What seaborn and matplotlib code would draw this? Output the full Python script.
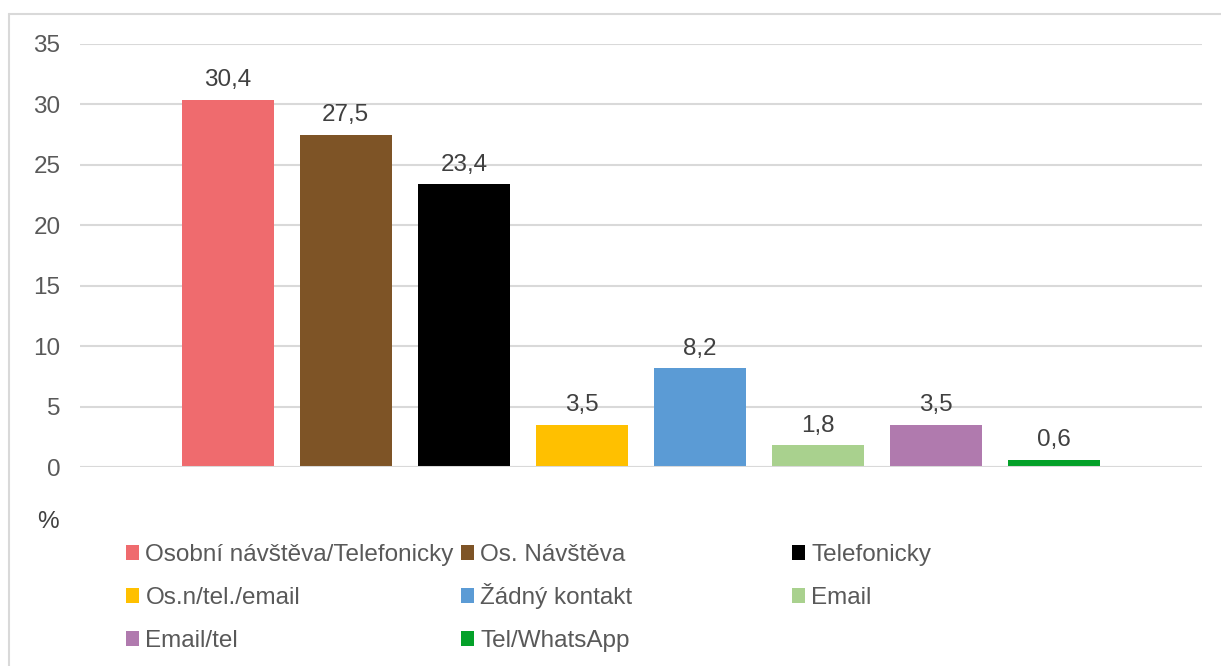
import numpy as np
import pandas as pd
import seaborn as sns
import matplotlib.pyplot as plt
from matplotlib.patches import Patch
from matplotlib.lines import Line2D

categories = ["Osobní návštěva/Telefonicky", "Os. Návštěva", "Telefonicky",
              "Os.n/tel./email", "Žádný kontakt", "Email", "Email/tel",
              "Tel/WhatsApp"]
values = [30.4, 27.5, 23.4, 3.5, 8.2, 1.8, 3.5, 0.6]
colors = ["#EF6B6E", "#7E5426", "#000000", "#FFC000", "#5B9BD5",
          "#A9D18E", "#B07AAE", "#04A129"]
yticks = [0, 5, 10, 15, 20, 25, 30, 35]

df = pd.DataFrame({"group": ["x"] * len(categories),
                   "kontakt": categories, "pct": values})

sns.set_theme(style="white")
plt.rcParams["font.family"] = ["Liberation Sans", "DejaVu Sans"]
text_col = "#595959"
fs = 17.5

fig = plt.figure(figsize=(12.21, 6.66), dpi=100)
ax = fig.add_axes([80 / 1221, 1 - 467 / 666, 1122 / 1221, 423 / 666])

sns.barplot(data=df, x="group", y="pct", hue="kontakt", hue_order=categories,
            palette=colors, width=0.8, gap=0.22, legend=False, ax=ax,
            saturation=1, linewidth=0)

ax.set_xlim(-0.475, 0.475)
ax.set_ylim(0, 35)
ax.set_yticks(yticks)
ax.set_yticklabels([str(t) for t in yticks], fontsize=fs, color=text_col)
ax.set_xticks([])
ax.set_xlabel("")
ax.set_ylabel("")
ax.tick_params(axis="y", length=0, pad=14)
for s in ax.spines.values():
    s.set_visible(False)
ax.grid(axis="y", color="#D9D9D9", linewidth=1.5)
ax.set_axisbelow(True)
ax.axhline(0, color="#D9D9D9", linewidth=2.2, zorder=1)

for cont in ax.containers:
    ax.bar_label(cont, labels=[f"{v:.1f}".replace(".", ",") for v in cont.datavalues],
                 padding=6, fontsize=fs, color="#404040")

fig.text(48 / 1221, 1 - 522 / 666, "%", fontsize=fs, color="#404040",
         ha="center", va="center")

# legend: entries laid out row by row in three fixed columns
col_x = [126 / 1221, 461 / 1221, 792 / 1221]
row_y = [1 - 566 / 666, 1 - 609 / 666, 1 - 652 / 666]
for i, name in enumerate(categories):
    r, c = divmod(i, 3)
    leg = fig.legend([Patch(facecolor=colors[i], edgecolor="none")], [name],
                     loc="lower left", bbox_to_anchor=(col_x[c], row_y[r]),
                     frameon=False, fontsize=fs, handlelength=0.55,
                     handleheight=0.55, handletextpad=0.25,
                     borderpad=0, borderaxespad=0)
    for t in leg.get_texts():
        t.set_color(text_col)

# outer chart border (top and left visible)
fig.add_artist(Line2D([9 / 1221, 1], [1 - 14 / 666, 1 - 14 / 666],
                      transform=fig.transFigure, color="#D9D9D9", linewidth=1.5))
fig.add_artist(Line2D([9 / 1221, 9 / 1221], [0, 1 - 14 / 666],
                      transform=fig.transFigure, color="#D9D9D9", linewidth=1.5))

fig.savefig("out.png", dpi=100, facecolor="white")
